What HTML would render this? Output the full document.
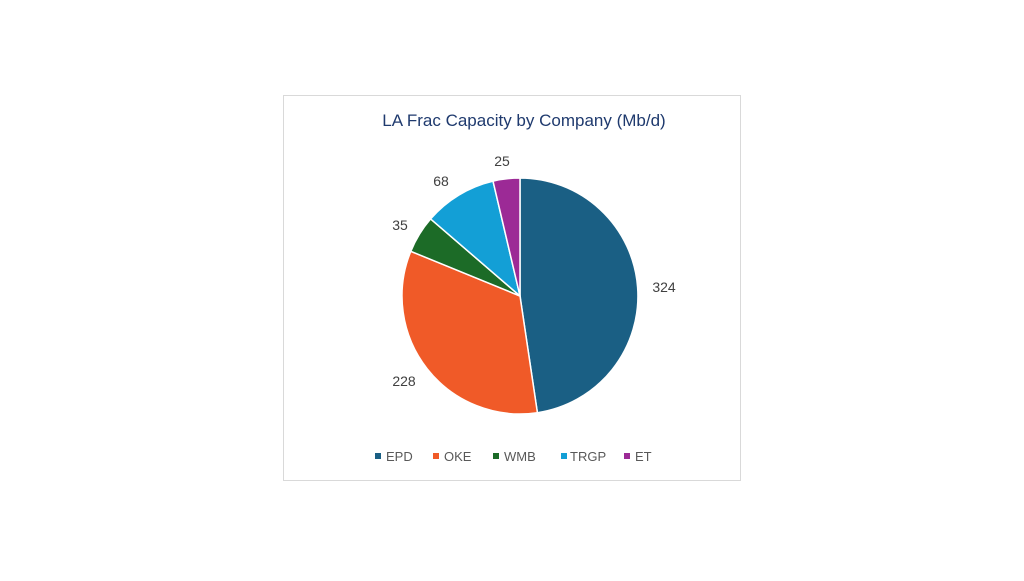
<!DOCTYPE html>
<html><head><style>body{margin:0;background:#fff}</style></head><body>
<svg width="1024" height="576" xmlns="http://www.w3.org/2000/svg" font-family="Liberation Sans, sans-serif">
<rect x="283.5" y="95.5" width="457" height="385" fill="#fff" stroke="#d9d9d9"/>
<text x="524" y="126" text-anchor="middle" font-size="17" fill="#1f3a6e">LA Frac Capacity by Company (Mb/d)</text>
<g stroke="#fff" stroke-width="1.5">
<path d="M520,296 L520,178 A118,118 0 0 1 537.4,412.7 Z" fill="#1a5f84"/>
<path d="M520,296 L537.4,412.7 A118,118 0 0 1 410.8,251.3 Z" fill="#f05a28"/>
<path d="M520,296 L410.8,251.3 A118,118 0 0 1 430.6,218.9 Z" fill="#1c6b27"/>
<path d="M520,296 L430.6,218.9 A118,118 0 0 1 493.0,181.1 Z" fill="#139fd6"/>
<path d="M520,296 L493.0,181.1 A118,118 0 0 1 520,178 Z" fill="#9c2a96"/>
</g>
<g font-size="14" fill="#404040" text-anchor="middle">
<text x="664" y="292">324</text>
<text x="404" y="386">228</text>
<text x="400" y="230">35</text>
<text x="441" y="186">68</text>
<text x="502" y="166">25</text>
</g>
<g font-size="13" fill="#595959">
<rect x="375" y="453" width="6" height="6" fill="#1a5f84"/><text x="386" y="461">EPD</text>
<rect x="433" y="453" width="6" height="6" fill="#f05a28"/><text x="444" y="461">OKE</text>
<rect x="493" y="453" width="6" height="6" fill="#1c6b27"/><text x="504" y="461">WMB</text>
<rect x="561" y="453" width="6" height="6" fill="#139fd6"/><text x="570" y="461">TRGP</text>
<rect x="624" y="453" width="6" height="6" fill="#9c2a96"/><text x="635" y="461">ET</text>
</g>
</svg>
</body></html>
